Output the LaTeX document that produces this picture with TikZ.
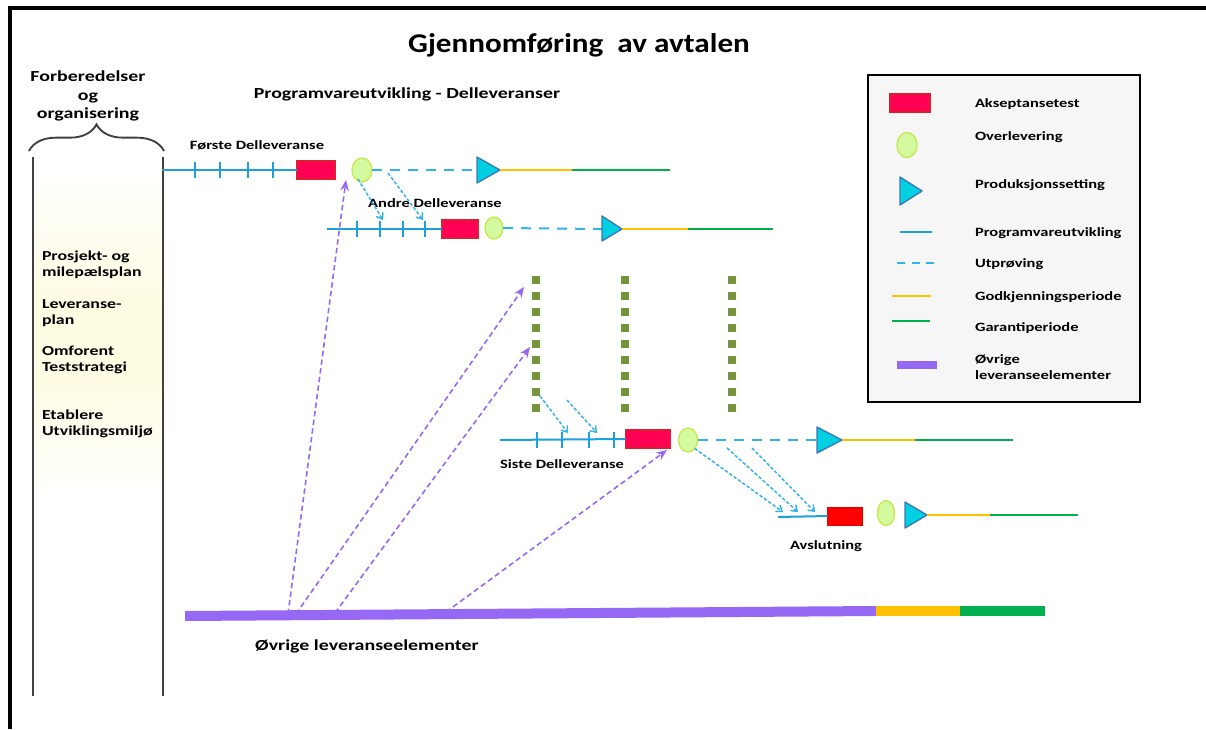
\documentclass[tikz,border=0pt]{standalone}
\usepackage{fontspec}
\setmainfont{Carlito}
\newfontfamily\wfont[FakeStretch=1.3]{Carlito}
\newfontfamily\tfont[FakeStretch=1.15]{Carlito}
\usetikzlibrary{arrows.meta,decorations.pathreplacing,shapes.geometric}
\definecolor{pblue}{RGB}{28,160,222}
\definecolor{dblue}{RGB}{50,178,232}
\definecolor{akred}{RGB}{255,0,85}
\definecolor{akborder}{RGB}{220,30,50}
\definecolor{ovfill}{RGB}{212,250,160}
\definecolor{ovdraw}{RGB}{200,232,80}
\definecolor{trifill}{RGB}{0,208,226}
\definecolor{tridraw}{RGB}{60,120,180}
\definecolor{gorange}{RGB}{255,192,0}
\definecolor{ggreen}{RGB}{0,176,80}
\definecolor{purp}{RGB}{150,105,245}
\definecolor{olivesq}{RGB}{119,147,60}
\definecolor{legbg}{RGB}{246,246,246}
\definecolor{glow}{RGB}{255,252,228}
\begin{document}
\begin{tikzpicture}[x=0.75pt,y=-0.75pt,
  every node/.style={inner sep=0pt,outer sep=0pt},
  prog/.style={pblue,line width=1.5pt},
  tickmark/.style={pblue,line width=1.5pt},
  utp/.style={dblue,line width=1.5pt,dash pattern=on 7.5pt off 6pt},
  godk/.style={gorange,line width=1.5pt},
  gar/.style={ggreen,line width=1.5pt},
  akbox/.style={rectangle,draw=akborder,fill=akred,line width=0.8pt,minimum height=13.5pt},
  ovbox/.style={ellipse,draw=ovdraw,fill=ovfill,line width=1pt},
  tri/.style={draw=tridraw,fill=trifill,line width=1pt,line join=round},
  smallarr/.style={dblue,line width=1.1pt,dash pattern=on 2.5pt off 1.5pt,-{Straight Barb[length=4pt,width=6pt]}},
  purarr/.style={purp,line width=1.2pt,dash pattern=on 4pt off 2.5pt,-{Stealth[length=8pt,width=6.5pt]}},
  sq/.style={fill=olivesq,minimum size=6pt},
  lbl/.style={font=\wfont\bfseries\fontsize{9.5}{11}\selectfont},
  legtxt/.style={font=\wfont\bfseries\fontsize{9.5}{11.5}\selectfont,anchor=west,align=left},
  lefttxt/.style={font=\wfont\bfseries\fontsize{10.3}{12}\selectfont,anchor=west,align=left},
  head/.style={font=\wfont\bfseries\fontsize{11.5}{14}\selectfont}
]
\useasboundingbox (0,0) rectangle (1206,729);
\fill[white] (0,0) rectangle (1206,729);

% frame
\draw[line width=2.4pt] (1206,8) -- (10,8) -- (10,729);

% title
\node[font=\tfont\bfseries\fontsize{20.3}{24}\selectfont,anchor=base] (title) at (579,52) {Gjennomføring\ \ av avtalen};

% left column (soft yellow glow)
\shade[top color=white,bottom color=glow] (34,165) rectangle (162,300);
\fill[glow] (34,299) rectangle (162,381);
\shade[top color=glow,bottom color=white] (34,380) rectangle (162,500);
\draw[line width=1.4pt,black!75] (33,157) -- (33,696);
\draw[line width=1.4pt,black!75] (163,157) -- (163,696);
\draw[line width=1.4pt,black!75,decorate,decoration={brace,amplitude=20pt,aspect=0.5}] (29,151) -- (164,151);
\node[head,align=center] (forb) at (88,96) {Forberedelser\\og\\organisering};
\node[lefttxt] (l1) at (42,265) {Prosjekt- og\\milepælsplan};
\node[lefttxt] (l2) at (42,313) {Leveranse-\\plan};
\node[lefttxt] (l3) at (42,360) {Omforent\\Teststrategi};
\node[lefttxt] (l4) at (42,424) {Etablere\\Utviklingsmiljø};

\node[head,anchor=base] (prh) at (407,98) {Programvareutvikling - Delleveranser};

% green dotted columns
\foreach \c/\x in {a/536,b/625,c/732}
  \foreach \k in {0,...,8}
    \node[sq] (sq\c\k) at (\x,{280+16*\k}) {};

% ---------- Row 1 ----------
\node[lbl,anchor=base] (lab1) at (257,149) {Første Delleveranse};
\coordinate (r1s) at (162,170);
\node[akbox,minimum width=28.5pt] (ak1) at (316,170) {};
\node[ovbox,minimum width=15pt,minimum height=18pt] (ov1) at (362,170) {};
\coordinate (t1b) at (477,170); \coordinate (t1) at (500,170);
\coordinate (g1) at (572,170); \coordinate (e1) at (670,170);
\draw[prog] (r1s) -- (ak1.west);
\foreach \x in {195,220,248,273} \draw[tickmark] (\x,162) -- (\x,178);
\draw[utp] (ov1.east) -- (t1b);
\draw[tri] (477,157) -- (t1) -- (477,183) -- cycle;
\draw[godk] (t1) -- (g1);
\draw[gar] (g1) -- (e1);

% ---------- Row 2 ----------
\node[lbl,anchor=base] (lab2) at (435,207) {Andre Delleveranse};
\coordinate (r2s) at (327,229);
\node[akbox,minimum width=27pt] (ak2) at (460,229) {};
\node[ovbox,minimum width=13.5pt,minimum height=16.5pt] (ov2) at (494,228) {};
\coordinate (t2b) at (602,229); \coordinate (t2) at (622,229);
\coordinate (g2) at (688,229); \coordinate (e2) at (773,229);
\draw[prog] (r2s) -- (ak2.west);
\foreach \x in {357,380,403,425} \draw[tickmark] (\x,221) -- (\x,237);
\draw[utp] (ov2.east) -- (t2b);
\draw[tri] (602,216) -- (t2) -- (602,241) -- cycle;
\draw[godk] (t2) -- (g2);
\draw[gar] (g2) -- (e2);

% arrows row1 -> row2
\coordinate (a1s) at (358,179); \coordinate (a1e) at (383,220);
\coordinate (a2s) at (388,173); \coordinate (a2e) at (423,220);
\draw[smallarr] (a1s) -- (a1e);
\draw[smallarr] (a2s) -- (a2e);

% ---------- Row 3 ----------
\node[lbl,anchor=base] (lab3) at (562,468) {Siste Delleveranse};
\coordinate (r3s) at (500,440);
\node[akbox,minimum width=33.75pt] (ak3) at (648,439) {};
\node[ovbox,minimum width=14.25pt,minimum height=18pt] (ov3) at (688,440) {};
\coordinate (t3b) at (817,440); \coordinate (t3) at (842,440);
\coordinate (g3) at (915,440); \coordinate (e3) at (1013,440);
\draw[prog] (r3s) -- (ak3.west);
\foreach \x in {537,562,589,614} \draw[tickmark] (\x,432) -- (\x,448);
\draw[utp] (ov3.east) -- (t3b);
\draw[tri] (817,427) -- (t3) -- (817,453) -- cycle;
\draw[godk] (t3) -- (g3);
\draw[gar] (g3) -- (e3);

% arrows column -> row 3
\coordinate (c1e) at (568,433); \coordinate (c2s) at (567,400); \coordinate (c2e) at (597,433);
\draw[smallarr] (sqa7.south east) -- (c1e);
\draw[smallarr] (c2s) -- (c2e);

% ---------- Row 4 ----------
\node[lbl,anchor=base] (lab4) at (826,549) {Avslutning};
\coordinate (r4s) at (778,517);
\node[rectangle,draw=red!90!black,fill=red,line width=0.6pt,minimum width=26.25pt,minimum height=13.5pt] (ak4) at (845,516) {};
\node[ovbox,minimum width=12.75pt,minimum height=18.75pt] (ov4) at (886,513) {};
\coordinate (t4) at (927,515);
\coordinate (g4) at (990,515); \coordinate (e4) at (1078,515);
\draw[prog] (r4s) -- (ak4.west);
\draw[tri] (905,502) -- (t4) -- (905,528) -- cycle;
\draw[godk] (t4) -- (g4);
\draw[gar] (g4) -- (e4);

% arrows row3 -> row4
\coordinate (d1e) at (783,512);
\coordinate (d2s) at (727,448); \coordinate (d2e) at (798,512);
\coordinate (d3s) at (752,448); \coordinate (d3e) at (815,512);
\draw[smallarr] (ov3.south east) -- (d1e);
\draw[smallarr] (d2s) -- (d2e);
\draw[smallarr] (d3s) -- (d3e);

% ---------- Øvrige leveranseelementer ----------
\coordinate (b1) at (288,614); \coordinate (b2) at (296,614);
\coordinate (b3) at (335,613); \coordinate (b4) at (446,612);
\coordinate (p1) at (346,180); \coordinate (p2) at (524,287);
\coordinate (p3) at (530,347); \coordinate (p4) at (667,450);
\draw[purarr] (b1) -- (p1);
\draw[purarr] (b2) -- (p2);
\draw[purarr] (b3) -- (p3);
\draw[purarr] (b4) -- (p4);
\fill[purp] (185,611) -- (876,606) -- (876,616) -- (185,621) -- cycle;
\fill[gorange] (876,606) rectangle (960,616);
\fill[ggreen] (960,606) rectangle (1045,616);
\node[head,anchor=base] (ovr) at (367,650) {Øvrige leveranseelementer};

% ---------- Legend ----------
\node[draw=black,line width=1.6pt,fill=legbg,minimum width=204pt,minimum height=245pt] (legend) at (1004,238.5) {};
\node[akbox,minimum width=30pt] (lgak) at (910,103) {};
\node[legtxt] (lt1) at (975,104) {Akseptansetest};
\node[ovbox,minimum width=15pt,minimum height=18.75pt] (lgov) at (907,145) {};
\node[legtxt] (lt2) at (975,137) {Overlevering};
\coordinate (lgt) at (922,191);
\draw[tri] (900,177) -- (lgt) -- (900,205) -- cycle;
\node[legtxt] (lt3) at (975,185) {Produksjonssetting};
\draw[prog] (900,232) -- (932,232);
\node[legtxt] (lt4) at (975,233) {Programvareutvikling};
\draw[utp,dash pattern=on 6pt off 5pt] (897,263) -- (937,263);
\node[legtxt] (lt5) at (975,264) {Utprøving};
\draw[godk] (892,296) -- (931,296);
\node[legtxt] (lt6) at (975,297) {Godkjenningsperiode};
\draw[gar] (892,321) -- (930,321);
\node[legtxt] (lt7) at (975,328) {Garantiperiode};
\draw[purp,line width=6pt] (897,365) -- (937,365);
\node[legtxt] (lt8) at (975,367) {Øvrige\\leveranseelementer};
\end{tikzpicture}
\end{document}
